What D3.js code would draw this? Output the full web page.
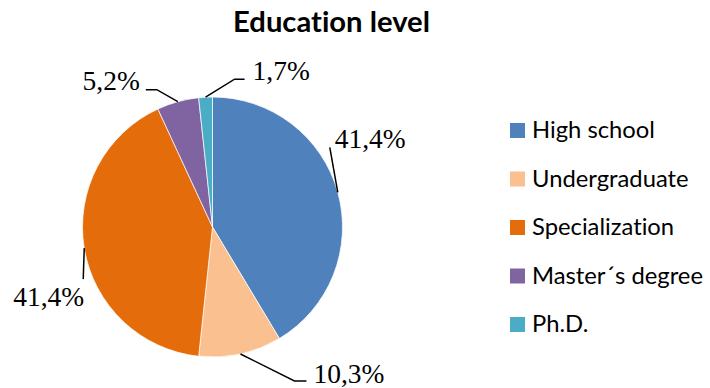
<!DOCTYPE html>
<html>
<head>
<meta charset="utf-8">
<script src="https://cdn.jsdelivr.net/npm/d3@7"></script>
<style>
  body { margin: 0; background: #fff; }
  svg { display: block; }
  text { font-variant-ligatures: none; }
</style>
</head>
<body>
<svg id="chart" width="710" height="388"></svg>
<script>
var categories = ["High school", "Undergraduate", "Specialization", "Master\u00b4s degree", "Ph.D."];
var values = [41.4, 10.3, 41.4, 5.2, 1.7];
var labels = ["41,4%", "10,3%", "41,4%", "5,2%", "1,7%"];
var colors = ["#4f81bd", "#fac090", "#e46c0a", "#8064a2", "#4bacc6"];

var width = 710;
var height = 388;
var cx = 212.5, cy = 227, radius = 130;

var svg = d3.select('#chart');

// fit a font size so a string gets a given width
function fitSize(family, weight, str, target) {
    var t = svg.append('text')
        .style('font-family', family)
        .style('font-weight', weight)
        .style('font-size', '20px')
        .text(str);
    var w = t.node().getComputedTextLength();
    t.remove();
    return 20 * target / w;
}

var titleFont = "Lato, 'Open Sans', sans-serif";
svg.append('text')
    .attr('x', 331.5)
    .attr('y', 32)
    .attr('text-anchor', 'middle')
    .style('font-family', titleFont)
    .style('font-weight', 'bold')
    .style('font-size', fitSize(titleFont, 'bold', 'Education level', 197) + 'px')
    .text('Education level');

var pie = d3.pie().sort(null).value(function(d){ return d; });
var arcs = pie(values);
var arc = d3.arc().innerRadius(0).outerRadius(radius);

var g = svg.append('g').attr('transform', 'translate(' + cx + ',' + cy + ')');

g.selectAll('path')
    .data(arcs)
    .enter().append('path')
        .attr('d', arc)
        .attr('fill', function(d, i){ return colors[i]; })
        .attr('stroke', '#fff')
        .attr('stroke-width', 0.7);

// leader line layout: offsets of bend and end from the edge point, text anchor side
var leaders = [
    { bend: [-8, -45], end: [-8, -45], anchor: 'start', tx: 5, ty: 1 },
    { bend: [54, 27], end: [66, 27], anchor: 'start', tx: 7, ty: 2 },
    { bend: [-1, 31], end: [-1, 31], anchor: 'end', tx: 1, ty: 27 },
    { bend: [-21, -12], end: [-32, -12], anchor: 'end', tx: -6, ty: 0 },
    { bend: [29, -18], end: [39, -18], anchor: 'start', tx: 8, ty: 1 }
];

var labelFont = "'Liberation Serif', serif";
var labelSize = fitSize(labelFont, 'normal', '41,4%', 71);

arcs.forEach(function(d, i) {
    var a = (d.startAngle + d.endAngle) / 2;
    var p0 = [radius * Math.sin(a), -radius * Math.cos(a)];
    var L = leaders[i];
    var p1 = [p0[0] + L.bend[0], p0[1] + L.bend[1]];
    var p2 = [p0[0] + L.end[0], p0[1] + L.end[1]];
    g.append('path')
        .attr('d', d3.line()([p0, p1, p2]))
        .attr('fill', 'none')
        .attr('stroke', '#000')
        .attr('stroke-width', 1.5);
    g.append('text')
        .attr('x', p2[0] + L.tx)
        .attr('y', p2[1] + L.ty)
        .attr('text-anchor', L.anchor)
        .style('font-family', labelFont)
        .style('font-size', labelSize + 'px')
        .attr('fill', '#000')
        .text(labels[i]);
});

// legend
var legendFont = "Lato, 'Open Sans', sans-serif";
var legendSize = fitSize(legendFont, 'normal', 'High school', 123);
var legendY = d3.scalePoint().domain(categories).range([130.5, 324.5]);

var legend = svg.append('g');
var rows = legend.selectAll('g')
    .data(categories)
    .enter().append('g')
        .attr('transform', function(d){ return 'translate(510,' + legendY(d) + ')'; });

rows.append('rect')
    .attr('x', 0)
    .attr('y', -7.5)
    .attr('width', 15)
    .attr('height', 15)
    .attr('fill', function(d, i){ return colors[i]; });

rows.append('text')
    .attr('x', 22)
    .attr('y', 7.5)
    .style('font-family', legendFont)
    .style('font-size', legendSize + 'px')
    .attr('fill', '#000')
    .text(function(d){ return d; });
</script>
</body>
</html>
